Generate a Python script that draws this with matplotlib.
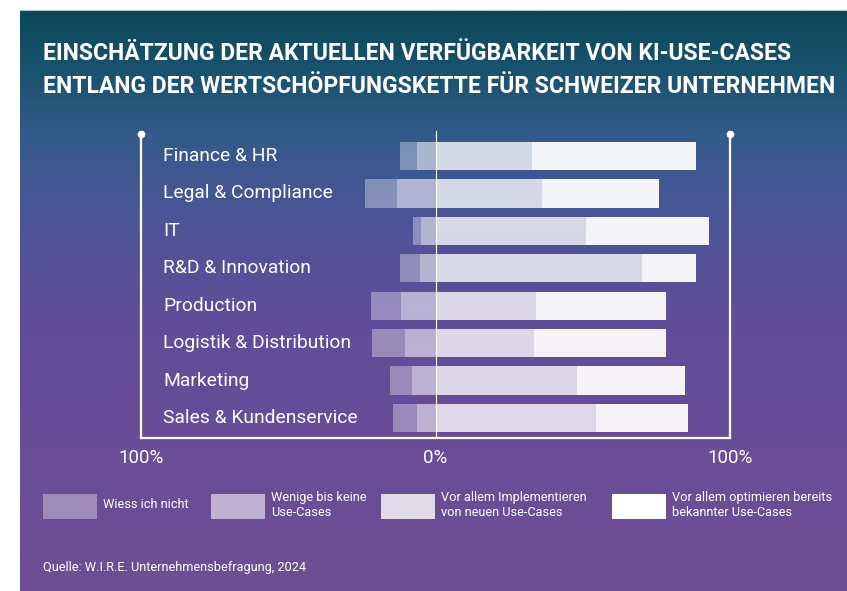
import numpy as np
import matplotlib
matplotlib.use("Agg")
import matplotlib.pyplot as plt
from matplotlib.colors import LinearSegmentedColormap
from matplotlib.patches import Rectangle

plt.rcParams['font.family'] = ['Roboto', 'DejaVu Sans']

# data (percent of companies)
categories = ["Finance & HR", "Legal & Compliance", "IT", "R&D & Innovation",
              "Production", "Logistik & Distribution", "Marketing",
              "Sales & Kundenservice"]
weiss_nicht = [5.7, 11.1, 2.7, 6.8, 10.2, 11.3, 7.4, 8.2]
wenige = [6.2, 13.0, 4.8, 5.1, 11.6, 10.4, 7.9, 6.2]
implementieren = [32.9, 36.2, 51.0, 70.2, 34.2, 33.3, 48.2, 54.4]
optimieren = [55.4, 39.6, 41.9, 18.2, 44.0, 44.9, 36.5, 31.4]

legend_labels = ["Wiess ich nicht", "Wenige bis keine\nUse-Cases",
                 "Vor allem Implementieren\nvon neuen Use-Cases",
                 "Vor allem optimieren bereits\nbekannter Use-Cases"]
tick_values = [-100, 0, 100]
tick_labels = ["100%", "0%", "100%"]

title_lines = ["EINSCHÄTZUNG DER AKTUELLEN VERFÜGBARKEIT VON KI-USE-CASES",
               "ENTLANG DER WERTSCHÖPFUNGSKETTE FÜR SCHWEIZER UNTERNEHMEN"]
source = "Quelle: W.I.R.E. Unternehmensbefragung, 2024"

alphas = [0.35, 0.57, 0.78, 0.94]

W, H = 847, 591
fig = plt.figure(figsize=(W / 100, H / 100), dpi=100)
fig.patch.set_facecolor("white")

# background panel, pixel coordinates
bg = fig.add_axes([0, 0, 1, 1])
bg.set_xlim(0, W)
bg.set_ylim(H, 0)
bg.axis("off")
grad = LinearSegmentedColormap.from_list("bg", [
    (0.00, "#0b4858"), (0.12, "#1c5472"), (0.22, "#355a8c"),
    (0.35, "#4a5597"), (0.52, "#5f4e9a"), (0.75, "#6a4c98"),
    (1.00, "#6e4f95")])
g = np.linspace(0, 1, 300).reshape(-1, 1)
bg.imshow(g, cmap=grad, aspect="auto", extent=[20, W, H, 10], zorder=0)
bg.plot([20, W], [10, 10], color="#b8c4c8", lw=0.8, zorder=1)

for i, line in enumerate(title_lines):
    bg.text(43, 60 + 33 * i, line, color="white", fontsize=16.5,
            fontweight="bold", va="baseline", ha="left")

swatch_x = [43, 211, 381, 612]
legend_alphas = [0.35, 0.57, 0.8, 1.0]
for x, lab, a in zip(swatch_x, legend_labels, legend_alphas):
    bg.add_patch(Rectangle((x, 494), 54, 25, facecolor="white", alpha=a,
                           edgecolor="none"))
    bg.text(x + 60, 505, lab, color="white", fontsize=9.2, va="center",
            ha="left", linespacing=1.15)

bg.text(43, 568, source, color="white", fontsize=9.2, va="center", ha="left")

# chart axes: x from -100 (px 141) to 100 (px 730)
y_top, y_bot = 131, 438
ax = fig.add_axes([141 / W, 1 - y_bot / H, (730 - 141) / W, (y_bot - y_top) / H])
ax.patch.set_alpha(0)
step = 37.43
ylo = (y_bot - 156) / step
yhi = (y_top - 156) / step
ax.set_xlim(-100, 100)
ax.set_ylim(ylo, yhi)

y = np.arange(len(categories))
weiss_nicht = np.array(weiss_nicht)
wenige = np.array(wenige)
implementieren = np.array(implementieren)
optimieren = np.array(optimieren)
h = 0.756
ax.barh(y, weiss_nicht, left=-(weiss_nicht + wenige), height=h,
        color="white", alpha=alphas[0], lw=0)
ax.barh(y, wenige, left=-wenige, height=h, color="white", alpha=alphas[1], lw=0)
ax.barh(y, implementieren, left=0, height=h, color="white", alpha=alphas[2], lw=0)
ax.barh(y, optimieren, left=implementieren, height=h, color="white",
        alpha=alphas[3], lw=0)

for yi, cat in zip(y, categories):
    ax.text(-92.5, yi, cat, color="white", fontsize=13.9, va="center", ha="left")

ax.axvline(0, color="white", lw=0.8, zorder=5)

ax.spines["top"].set_visible(False)
dot_y = (134 - 156) / step
for s in ["left", "right", "bottom"]:
    ax.spines[s].set_color("white")
    ax.spines[s].set_linewidth(1.6)
ax.spines["left"].set_bounds(ylo, dot_y)
ax.spines["right"].set_bounds(ylo, dot_y)
ax.plot([-100, 100], [dot_y, dot_y], "o", color="white", ms=4.5, clip_on=False)

ax.set_yticks([])
ax.set_xticks(tick_values)
ax.set_xticklabels(tick_labels)
ax.tick_params(axis="x", length=0, pad=8, labelsize=13.5, labelcolor="white")

fig.savefig("out.png", dpi=100)
